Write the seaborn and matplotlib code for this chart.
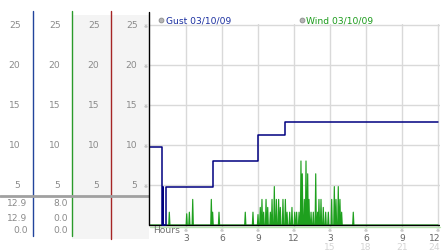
import matplotlib
matplotlib.use("Agg")
import matplotlib.pyplot as plt
import matplotlib.transforms as mtransforms
import seaborn as sns
import pandas as pd

# ---------------- data ----------------
gust_hours = [0.0, 0.97, 1.05, 1.12, 1.35, 5.28, 9.0, 11.25, 24.0]
gust_values = [9.7, 0.0, 4.75, 0.0, 4.75, 8.0, 11.3, 12.9, 12.9]

wind_hours = [1.61, 3.06, 3.28, 3.56, 5.11, 5.22, 5.75, 7.94, 8.58, 9.0,
              9.19, 9.33, 9.47, 9.67, 9.81, 10.03, 10.17, 10.36, 10.53, 10.72,
              10.86, 11.08, 11.28, 11.42, 11.64, 11.83, 12.06, 12.22, 12.42, 12.58,
              12.69, 12.86, 13.0, 13.14, 13.25, 13.42, 13.61, 13.81, 13.97, 14.08,
              14.25, 14.44, 14.64, 14.86, 15.14, 15.36, 15.5, 15.69, 15.83, 15.97,
              16.94]
wind_values = [1.6, 1.4, 1.6, 3.2, 3.2, 1.6, 1.6, 1.6, 1.6, 1.3,
               2.2, 3.2, 1.6, 3.2, 2.2, 1.6, 3.2, 4.8, 3.2, 3.2,
               2.2, 3.2, 3.2, 1.6, 1.6, 2.2, 1.6, 1.6, 1.6, 8.0,
               6.4, 3.2, 8.0, 6.4, 3.2, 1.6, 1.6, 6.4, 1.6, 3.2,
               3.2, 2.2, 1.6, 1.6, 3.2, 4.8, 3.2, 4.8, 3.2, 1.6,
               1.6]

y_ticks = [5, 10, 15, 20, 25]
x_ticks = [3, 6, 9, 12, 15, 18, 21, 24]
x_labels_top = ["3", "6", "9", "12", "3", "6", "9", "12"]
x_labels_second = {15: "15", 18: "18", 21: "21", 24: "24"}
stats_col1 = ["12.9", "12.9", "0.0"]
stats_col2 = ["8.0", "0.0", "0.0"]
legend_labels = ["Gust 03/10/09", "Wind 03/10/09"]

# ---------------- build wind polyline (spikes return to baseline) ----------------
pts = [(0.0, 0.0)]
n = len(wind_hours)
for i, (t, v) in enumerate(zip(wind_hours, wind_values)):
    prev = wind_hours[i - 1] if i > 0 else -10
    nxt = wind_hours[i + 1] if i < n - 1 else 99
    if t - prev > 0.1:
        pts.append((t - 0.05, 0.0))
    pts.append((t, v))
    if nxt - t > 0.1:
        pts.append((t + 0.05, 0.0))
pts.append((24.0, 0.0))
wind_df = pd.DataFrame(pts, columns=["hour", "wind"])
gust_df = pd.DataFrame({"hour": gust_hours, "gust": gust_values})

# ---------------- figure ----------------
sns.set_style("white")
plt.rcParams['font.family'] = ['DejaVu Sans']

W, H = 442, 253
fig = plt.figure(figsize=(W / 100, H / 100), dpi=100)
fig.patch.set_facecolor("white")

def fx(px):
    return px / W

def fy(py):
    return 1 - py / H

# main axes: x 149..440 px, y 25..228 px
ax_l, ax_r, ax_t, ax_b = 149, 440, 25, 228
ax = fig.add_axes([fx(ax_l), fy(ax_b), fx(ax_r - ax_l), (ax_b - ax_t) / H])
ax.set_facecolor("white")
for s in ax.spines.values():
    s.set_visible(False)
for yv in y_ticks:
    ax.axhline(yv, color="#d9d9d9", lw=1, zorder=0)
for xv in x_ticks:
    ax.axvline(xv, color="#d9d9d9", lw=1, zorder=0)

# background / decoration axes in pixel coords
bg = fig.add_axes([0, 0, 1, 1], zorder=-1)
bg.set_xlim(0, W)
bg.set_ylim(H, 0)
bg.axis("off")
bg.add_patch(plt.Rectangle((72, 16), 77, 224, color="#f4f4f4", lw=0))
bg.plot([33, 33], [12, 237], color="#22449c", lw=1)
bg.plot([72, 72], [12, 237], color="#2a9a2a", lw=1)
bg.plot([111, 111], [12, 240], color="#a52525", lw=1)
bg.plot([0, 149], [197, 197], color="#a0a0a0", lw=2)

# overlay axes for black frame line etc.
ov = fig.add_axes([0, 0, 1, 1], zorder=5)
ov.set_xlim(0, W)
ov.set_ylim(H, 0)
ov.axis("off")
ov.patch.set_alpha(0)
ov.plot([149, 149], [13, 226], color="black", lw=1)

# series
sns.lineplot(data=wind_df, x="hour", y="wind", ax=ax, color="#1ea01e", lw=0.85,
             estimator=None, sort=False, zorder=3)
ax.axhline(0, color="black", lw=1, zorder=4)
ax.plot(gust_df["hour"], gust_df["gust"], drawstyle="steps-post",
        color="#000080", lw=1.1, zorder=5)
ax.set_xlabel("")
ax.set_ylabel("")
ax.set_xticks([])
ax.set_yticks([])
ax.set_xlim(-1 / 12, (ax_r - 150) / 12)
ax.set_ylim(-(ax_b - 226) / 8, (226 - ax_t) / 8)

# light green line below baseline
ov.plot([150, 440], [228, 228], color="#b8e6b0", lw=1)

# left column labels aligned to main y scale
trans = mtransforms.blended_transform_factory(bg.transData, ax.transData)
fs = 6.6
gray = "#8a8a8a"
for yv in y_ticks:
    for xr in [20.5, 60.5, 99.5, 137.5]:
        bg.text(xr, yv, str(yv), transform=trans, ha="right", va="center",
                fontsize=fs, color=gray)
    bg.text(146, yv, "※", transform=trans, ha="center", va="center",
            fontsize=3.5, color="#999999")

for i, (a, b) in enumerate(zip(stats_col1, stats_col2)):
    yy = [204, 218.5, 231][i]
    bg.text(27.5, yy, a, ha="right", va="center", fontsize=fs, color=gray)
    bg.text(67.5, yy, b, ha="right", va="center", fontsize=fs, color=gray)

# x labels
transx = mtransforms.blended_transform_factory(ax.transData, ov.transData)
ov.text(153, 231, "Hours", ha="left", va="center", fontsize=fs, color="#707070")
for xv, lab in zip(x_ticks, x_labels_top):
    last = xv == x_ticks[-1]
    ov.text(xv, 230.5, "※", transform=transx, ha="center", va="center",
            fontsize=3.5, color="#999999")
    if last:
        ov.text(440.5, 239, lab, ha="right", va="center", fontsize=fs, color="#666666")
    else:
        ov.text(xv, 239, lab, transform=transx, ha="center", va="center",
                fontsize=fs, color="#666666")
    if xv in x_labels_second:
        if last:
            ov.text(440.5, 248, x_labels_second[xv], ha="right", va="center",
                    fontsize=fs, color="#d4d4d4")
        else:
            ov.text(xv, 248, x_labels_second[xv], transform=transx, ha="center",
                    va="center", fontsize=fs, color="#d4d4d4")

# legend
for cx, lab, col in [(161, legend_labels[0], "#1a2fa0"), (301.5, legend_labels[1], "#1a9a1a")]:
    ov.scatter([cx], [20.5], s=12, facecolor="#b5b5b5", edgecolor="#8c8c8c", lw=0.6)
    ov.text(cx + 4.5, 20.5, lab, ha="left", va="center", fontsize=fs, color=col)

fig.savefig("out.png", dpi=100, facecolor="white")
